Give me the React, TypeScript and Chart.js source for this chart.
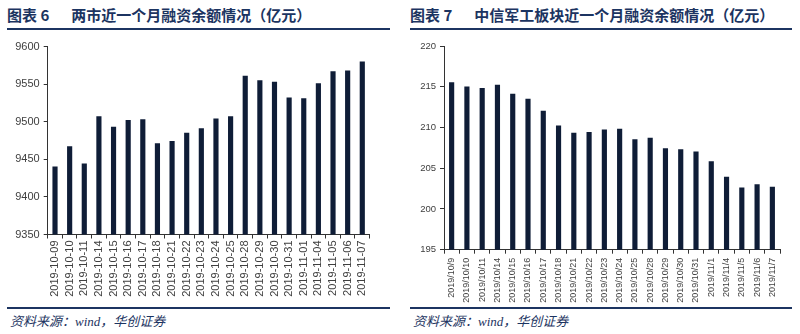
import React, { useEffect, useRef } from "react";
import { Chart, registerables } from "chart.js";

Chart.register(...registerables);

const leftCategories = [
  "2019-10-09", "2019-10-10", "2019-10-11", "2019-10-14", "2019-10-15", "2019-10-16",
  "2019-10-17", "2019-10-18", "2019-10-21", "2019-10-22", "2019-10-23", "2019-10-24",
  "2019-10-25", "2019-10-28", "2019-10-29", "2019-10-30", "2019-10-31", "2019-11-01",
  "2019-11-04", "2019-11-05", "2019-11-06", "2019-11-07",
];
const leftValues = [
  9440, 9467, 9444, 9507, 9493, 9502, 9503, 9471, 9474, 9485, 9491, 9504,
  9507, 9561, 9555, 9553, 9532, 9531, 9551, 9567, 9568, 9580,
];
const rightCategories = [
  "2019/10/9", "2019/10/10", "2019/10/11", "2019/10/14", "2019/10/15", "2019/10/16",
  "2019/10/17", "2019/10/18", "2019/10/21", "2019/10/22", "2019/10/23", "2019/10/24",
  "2019/10/25", "2019/10/28", "2019/10/29", "2019/10/30", "2019/10/31", "2019/11/1",
  "2019/11/4", "2019/11/5", "2019/11/6", "2019/11/7",
];
const rightValues = [
  215.5, 215.0, 214.8, 215.2, 214.1, 213.5, 212.0, 210.2, 209.3, 209.4, 209.7, 209.8,
  208.5, 208.7, 207.4, 207.3, 207.0, 205.8, 203.9, 202.6, 203.0, 202.7,
];
const leftTitleNum = "图表 6";
const leftTitle = "两市近一个月融资余额情况（亿元）";
const rightTitleNum = "图表 7";
const rightTitle = "中信军工板块近一个月融资余额情况（亿元）";
const sourceText = "资料来源：wind，华创证券";
const leftYRange = [9350, 9600, 50];
const rightYRange = [195, 220, 5];

const NAVY = "#1c3461";
const BAR = "#0f1d37";
const AXIS = "#333333";

type ChartProps = {
  labels: string[];
  values: number[];
  range: number[];
  width: number;
  height: number;
  yWidth: number;
  xHeight: number;
  padTop: number;
  padRight: number;
  yFont: number;
  xFont: number;
  xPad: number;
  barW: number;
};

function BarChart(p: ChartProps) {
  const ref = useRef<HTMLCanvasElement>(null);
  useEffect(() => {
    const ctx = ref.current!;
    const chart = new Chart(ctx, {
      type: "bar",
      data: {
        labels: p.labels,
        datasets: [
          {
            data: p.values,
            backgroundColor: BAR,
            barThickness: p.barW,
          },
        ],
      },
      options: {
        animation: false,
        responsive: false,
        maintainAspectRatio: false,
        layout: { padding: { top: p.padTop, right: p.padRight, left: 0, bottom: 0 } },
        plugins: { legend: { display: false }, tooltip: { enabled: false } },
        scales: {
          x: {
            offset: true,
            grid: { offset: true, drawOnChartArea: false, tickLength: 4, color: AXIS },
            border: { display: true, color: AXIS, width: 1 },
            ticks: {
              autoSkip: false,
              minRotation: 90,
              maxRotation: 90,
              padding: p.xPad,
              color: "#404040",
              font: { family: "'Liberation Sans', Arial, sans-serif", size: p.xFont },
            },
            afterFit: (s: any) => {
              s.height = p.xHeight;
            },
          },
          y: {
            min: p.range[0],
            max: p.range[1],
            grid: { drawOnChartArea: false, tickLength: 4, color: AXIS },
            border: { display: true, color: AXIS, width: 1 },
            ticks: {
              stepSize: p.range[2],
              padding: 4,
              color: "#404040",
              font: { family: "'Liberation Sans', Arial, sans-serif", size: p.yFont },
              callback: (v: any) => String(v),
            },
            afterFit: (s: any) => {
              s.width = p.yWidth;
            },
          },
        },
      },
    });
    return () => chart.destroy();
  }, []);
  return <canvas ref={ref} width={p.width} height={p.height} style={{ width: p.width, height: p.height, display: "block" }} />;
}

function Panel(props: {
  left: number;
  lineLeft: number;
  lineWidth: number;
  num: string;
  title: string;
  titleGap: number;
  chart: ChartProps;
}) {
  return (
    <div style={{ position: "absolute", left: props.left, top: 0, width: 400, height: 334 }}>
      <div
        style={{
          position: "absolute",
          left: props.lineLeft,
          top: 5,
          whiteSpace: "nowrap",
          fontFamily: "'Noto Sans CJK SC', sans-serif",
          fontWeight: 700,
          fontSize: 15,
          lineHeight: "20px",
          color: NAVY,
        }}
      >
        <span>{props.num}</span>
        <span style={{ marginLeft: props.titleGap }}>{props.title}</span>
      </div>
      <div
        style={{
          position: "absolute",
          left: props.lineLeft,
          top: 28,
          width: props.lineWidth,
          height: 2,
          background: NAVY,
        }}
      />
      <div style={{ position: "absolute", left: 0, top: 30 }}>
        <BarChart {...props.chart} />
      </div>
      <div
        style={{
          position: "absolute",
          left: props.lineLeft,
          top: 307,
          width: props.lineWidth,
          height: 2,
          background: NAVY,
        }}
      />
      <div
        style={{
          position: "absolute",
          left: props.lineLeft + 3,
          top: 313,
          whiteSpace: "nowrap",
          fontFamily: "'Liberation Serif', 'Noto Sans CJK SC', serif",
          fontStyle: "italic",
          fontSize: 13,
          lineHeight: "18px",
          color: NAVY,
        }}
      >
        {sourceText}
      </div>
    </div>
  );
}

export default function App() {
  return (
    <div style={{ position: "fixed", left: 0, top: 0, width: 800, height: 334, background: "#fff", overflow: "hidden" }}>
      <Panel
        left={0}
        lineLeft={7}
        lineWidth={383}
        num={leftTitleNum}
        title={leftTitle}
        titleGap={22}
        chart={{
          labels: leftCategories,
          values: leftValues,
          range: leftYRange,
          width: 395,
          height: 275,
          yWidth: 47.7,
          xHeight: 70.5,
          padTop: 16.7,
          padRight: 25.4,
          yFont: 11,
          xFont: 11,
          xPad: 2,
          barW: 4.5,
        }}
      />
      <Panel
        left={400}
        lineLeft={10}
        lineWidth={382}
        num={rightTitleNum}
        title={rightTitle}
        titleGap={22}
        chart={{
          labels: rightCategories,
          values: rightValues,
          range: rightYRange,
          width: 400,
          height: 275,
          yWidth: 44,
          xHeight: 55.3,
          padTop: 16,
          padRight: 20,
          yFont: 9.5,
          xFont: 9,
          xPad: 4,
          barW: 4.5,
        }}
      />
    </div>
  );
}
